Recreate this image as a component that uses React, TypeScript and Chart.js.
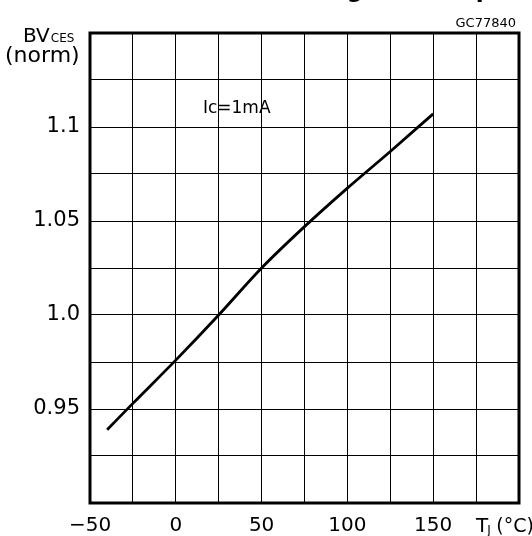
import React, { useEffect, useRef } from "react";
import { Chart, registerables } from "chart.js";

Chart.register(...registerables);

// Junction temperature (°C)
const temperatures = [-40, -25, 0, 25, 50, 75, 100, 125, 150];
// Normalized breakdown voltage BVces
const bvNorm = [0.939, 0.953, 0.976, 1.0, 1.025, 1.047, 1.0675, 1.087, 1.107];
// Labelled ticks
const xTickValues = [-50, 0, 50, 100, 150];
const xTickText = ["\u221250", "0", "50", "100", "150"];
const yTickValues = [0.95, 1.0, 1.05, 1.1];
const yTickText = ["0.95", "1.0", "1.05", "1.1"];

const FONT = "'DejaVu Sans', 'Liberation Sans', sans-serif";

const overlay = {
  id: "overlay",
  afterDraw(chart: any) {
    const { ctx, chartArea: a, scales } = chart;
    const xs = scales.x;
    const ys = scales.y;
    ctx.save();
    // frame
    ctx.strokeStyle = "#000";
    ctx.lineWidth = 3;
    ctx.strokeRect(a.left, a.top, a.right - a.left, a.bottom - a.top);

    ctx.fillStyle = "#000";
    ctx.textBaseline = "alphabetic";

    // cropped title (only descenders visible)
    ctx.font = `bold 23px ${FONT}`;
    ctx.textAlign = "left";
    const pre = "Volta";
    const preW = ctx.measureText(pre).width;
    const gW = ctx.measureText("g").width;
    ctx.fillText("Voltage vs Temperature", 355 - preW - gW / 2, -3.5);

    // figure code
    ctx.font = `13px ${FONT}`;
    ctx.textAlign = "right";
    ctx.fillText("GC77840", a.right - 3, 27);

    // y axis title
    ctx.textAlign = "left";
    ctx.font = `20px ${FONT}`;
    ctx.fillText("BV", 23, 42);
    const bvW = ctx.measureText("BV").width;
    ctx.font = `12px ${FONT}`;
    ctx.fillText("CES", 23 + bvW + 1, 42);
    ctx.font = `22px ${FONT}`;
    ctx.fillText("(norm)", 5, 62);

    // annotation
    ctx.font = `17px ${FONT}`;
    ctx.fillText("Ic=1mA", xs.getPixelForValue(15.8), ys.getPixelForValue(1.1074));

    // x axis title
    const tx = xs.getPixelForValue(175);
    ctx.font = `20px ${FONT}`;
    ctx.fillText("T", tx, 532);
    const tW = ctx.measureText("T").width;
    ctx.font = `12px ${FONT}`;
    ctx.fillText("J", tx + tW - 1, 534);
    ctx.font = `19px ${FONT}`;
    ctx.fillText("(\u00B0C)", tx + tW + 8, 532);
    ctx.restore();
  },
};

export default function App() {
  const canvasRef = useRef<HTMLCanvasElement | null>(null);

  useEffect(() => {
    if (!canvasRef.current) return;
    const chart = new Chart(canvasRef.current, {
      type: "line",
      data: {
        datasets: [
          {
            data: temperatures.map((t, i) => ({ x: t, y: bvNorm[i] })),
            borderColor: "#000",
            borderWidth: 2.8,
            pointRadius: 0,
            fill: false,
            cubicInterpolationMode: "monotone",
          },
        ],
      },
      options: {
        animation: false,
        responsive: true,
        maintainAspectRatio: false,
        layout: { padding: { top: 33, right: 13, left: 0, bottom: 0 } },
        plugins: {
          legend: { display: false },
          tooltip: { enabled: false },
          title: { display: false },
        },
        scales: {
          x: {
            type: "linear",
            min: -50,
            max: 200,
            afterFit(scale: any) {
              scale.height = 33;
            },
            ticks: {
              stepSize: 25,
              autoSkip: false,
              maxRotation: 0,
              padding: 11,
              color: "#000",
              font: { family: FONT, size: 20 },
              callback(v: any) {
                const i = xTickValues.indexOf(Math.round(Number(v)));
                return i >= 0 ? xTickText[i] : "";
              },
            },
            grid: { color: "#000", lineWidth: 1, drawTicks: false },
            border: { display: false },
          },
          y: {
            type: "linear",
            min: 0.9,
            max: 1.15,
            afterFit(scale: any) {
              scale.width = 90;
            },
            ticks: {
              stepSize: 0.025,
              autoSkip: false,
              padding: 10,
              color: "#000",
              font: { family: FONT, size: 21 },
              callback(v: any) {
                const n = Math.round(Number(v) * 1000);
                const i = yTickValues.findIndex((t) => Math.round(t * 1000) === n);
                return i >= 0 ? yTickText[i] : "";
              },
            },
            grid: { color: "#000", lineWidth: 1, drawTicks: false },
            border: { display: false },
          },
        },
      },
      plugins: [overlay],
    });
    return () => chart.destroy();
  }, []);

  return (
    <div style={{ position: "fixed", left: 0, top: 0, width: 532, height: 536, background: "#fff" }}>
      <canvas ref={canvasRef} />
    </div>
  );
}
